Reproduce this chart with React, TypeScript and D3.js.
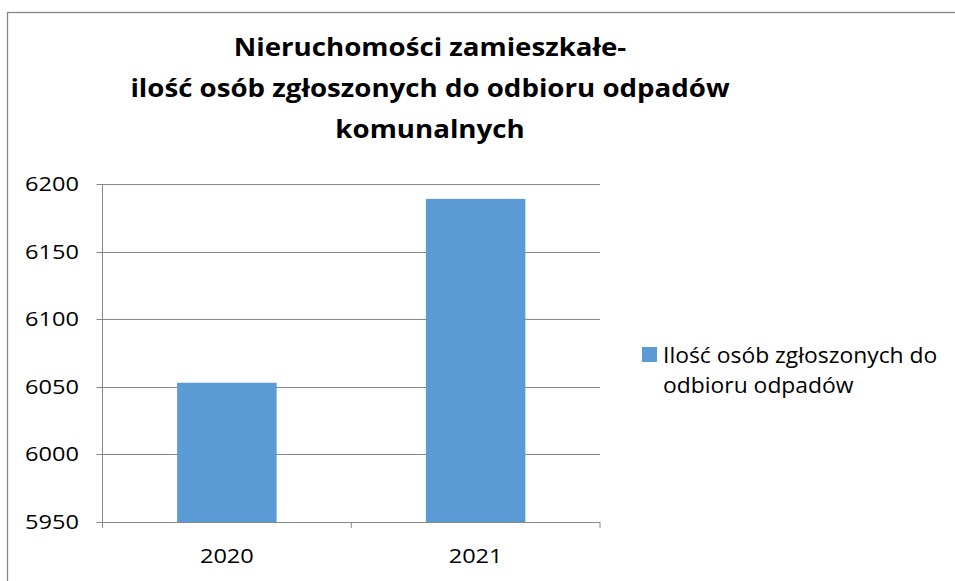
import React from 'react';
import * as d3 from 'd3';

const years = ['2020', '2021'];
const persons = [6053, 6189];
const yTicks = [5950, 6000, 6050, 6100, 6150, 6200];
const titleLines = [
  'Nieruchomości zamieszkałe-',
  'ilość osób zgłoszonych do odbioru odpadów',
  'komunalnych',
];
const legendLines = ['Ilość osób zgłoszonych do', 'odbioru odpadów'];

const W = 955;
const H = 581;
const left = 102.5;
const right = 600;
const top = 184;
const bottom = 522;
const font = "'Open Sans', 'Noto Sans', sans-serif";
const grey = '#878787';
const barColor = '#5B9BD5';

const App = () => {
  const x = d3.scaleBand<string>()
    .domain(years)
    .range([left, right])
    .paddingInner(0.6)
    .paddingOuter(0.3);
  const y = d3.scaleLinear().domain([5950, 6200]).range([bottom, top]);

  // category boundaries for the bottom tick marks
  const step = (right - left) / years.length;
  const catTicks = d3.range(years.length + 1).map(i => left + i * step);

  return (
    <svg width={W} height={H} style={{ position: 'absolute', left: 0, top: 0, background: '#fff' }}>
      {/* frame */}
      <rect x={7.5} y={12.5} width={W + 10} height={H + 10} fill="none" stroke={grey} strokeWidth={1.3} />

      {/* title - text is a bit wide in the original, so stretched sideways */}
      {titleLines.map((t, i) => (
        <text key={i} transform={`translate(430, ${56 + i * 41}) scale(1.13, 1)`}
          textAnchor="middle" fontFamily={font} fontWeight="bold" fontSize={24.5} fill="#000">
          {t}
        </text>
      ))}

      {/* grid + y ticks */}
      {yTicks.map(v => (
        <g key={v}>
          <line x1={left - 6} x2={right} y1={Math.round(y(v)) + 0.5} y2={Math.round(y(v)) + 0.5} stroke={grey} strokeWidth={1} />
          <text transform={`translate(79, ${y(v) + 7}) scale(1.15, 1)`} textAnchor="end"
            fontFamily={font} fontSize={20.5} fill="#000">{v}</text>
        </g>
      ))}

      {/* bars */}
      {years.map((yr, i) => (
        <rect key={yr} x={x(yr)} y={y(persons[i])} width={x.bandwidth()} height={bottom - y(persons[i])} fill={barColor} />
      ))}

      {/* axes */}
      <line x1={left} x2={left} y1={top} y2={bottom + 6} stroke={grey} strokeWidth={1} />
      <line x1={left} x2={right} y1={bottom + 0.5} y2={bottom + 0.5} stroke={grey} strokeWidth={1} />
      {catTicks.map((cx, i) => (
        <line key={i} x1={cx} x2={cx} y1={bottom} y2={bottom + 6} stroke={grey} strokeWidth={1} />
      ))}
      {years.map(yr => (
        <text key={yr} transform={`translate(${x(yr)! + x.bandwidth() / 2}, 563) scale(1.15, 1)`}
          textAnchor="middle" fontFamily={font} fontSize={20.5} fill="#000">{yr}</text>
      ))}

      {/* legend */}
      <rect x={642} y={347} width={15} height={15} fill={barColor} />
      {legendLines.map((t, i) => (
        <text key={i} transform={`translate(663, ${363 + i * 30}) scale(1.09, 1)`}
          fontFamily={font} fontSize={21} fill="#000">{t}</text>
      ))}
    </svg>
  );
};

export default App;
